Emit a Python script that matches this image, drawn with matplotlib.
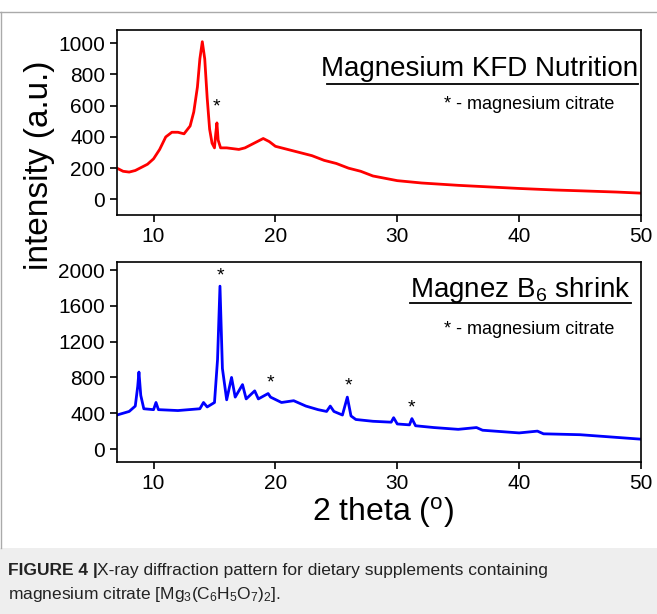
import matplotlib
matplotlib.use("Agg")
import matplotlib.pyplot as plt
from matplotlib.lines import Line2D
from matplotlib.patches import Rectangle

plt.rcParams['font.family'] = ['Liberation Sans', 'DejaVu Sans']
plt.rcParams['mathtext.fontset'] = 'custom'
plt.rcParams['mathtext.rm'] = 'Liberation Sans'
plt.rcParams['mathtext.it'] = 'Liberation Sans'

kfd_x = [7, 7.5, 8, 8.5, 9, 9.5, 10, 10.5, 11, 11.5, 12, 12.5, 13, 13.3, 13.6, 13.8, 14, 14.2, 14.4, 14.6, 14.8, 15, 15.1, 15.2, 15.3, 15.5, 16, 16.5, 17, 17.5, 18, 18.5, 19, 19.5, 20, 21, 22, 23, 24, 25, 26, 27, 28, 29, 30, 32, 35, 38, 40, 43, 45, 48, 50]
kfd_y = [200, 180, 175, 185, 205, 225, 260, 320, 400, 430, 430, 420, 470, 560, 720, 900, 1010, 900, 650, 450, 360, 330, 420, 490, 380, 330, 330, 325, 320, 330, 350, 370, 390, 370, 340, 320, 300, 280, 250, 230, 200, 180, 150, 135, 120, 105, 90, 78, 70, 60, 55, 47, 40]

b6_x = [7, 8, 8.5, 8.7, 8.8, 8.95, 9.2, 10, 10.2, 10.4, 12, 13.8, 14.1, 14.4, 15, 15.25, 15.45, 15.65, 16, 16.4, 16.7, 17.3, 17.6, 18.3, 18.6, 19.4, 19.6, 19.9, 20.5, 21.5, 22.5, 23.5, 24.2, 24.5, 24.8, 25.5, 25.9, 26.2, 26.6, 28, 29.5, 29.7, 30, 31, 31.2, 31.5, 33, 35, 36.5, 37, 40, 41.5, 42, 45, 48, 50]
b6_y = [380, 420, 480, 700, 860, 600, 450, 440, 520, 440, 430, 450, 520, 470, 520, 1000, 1820, 900, 550, 800, 580, 720, 560, 650, 560, 620, 580, 560, 520, 540, 480, 440, 420, 480, 420, 380, 580, 370, 330, 310, 300, 350, 280, 270, 340, 260, 240, 220, 240, 210, 180, 200, 170, 160, 130, 110]

fig = plt.figure(figsize=(6.57, 6.14), dpi=100)
W, H = 657, 614
def ax_rect(x0, y0, x1, y1):
    return [x0 / W, 1 - y1 / H, (x1 - x0) / W, (y1 - y0) / H]

fig.patches.append(Rectangle((0, 0), 1, 1 - 548 / H, transform=fig.transFigure, facecolor='#eeeeee', edgecolor='none', zorder=0))
fig.add_artist(Line2D([0, 1], [1 - 12 / H] * 2, transform=fig.transFigure, color='#aaaaaa', lw=1))
fig.add_artist(Line2D([0.5 / W] * 2, [1 - 548 / H, 1 - 12 / H], transform=fig.transFigure, color='#aaaaaa', lw=1))

ax1 = fig.add_axes(ax_rect(117, 30, 641, 215))
ax2 = fig.add_axes(ax_rect(117, 262, 641, 462))

ax1.plot(kfd_x, kfd_y, color='#ff0000', lw=2)
ax1.set_xlim(7, 50)
ax1.set_ylim(-100, 1085)
ax1.set_yticks([0, 200, 400, 600, 800, 1000])
ax1.set_xticks([10, 20, 30, 40, 50])

ax2.plot(b6_x, b6_y, color='#0000ff', lw=2)
ax2.set_xlim(7, 50)
ax2.set_ylim(-145, 2090)
ax2.set_yticks([0, 400, 800, 1200, 1600, 2000])
ax2.set_xticks([10, 20, 30, 40, 50])

for ax in (ax1, ax2):
    ax.tick_params(labelsize=15, direction='out', length=5, width=1.2)
    for s in ax.spines.values():
        s.set_linewidth(1.2)

ax1.text(0.995, 0.79, 'Magnesium KFD Nutrition', transform=ax1.transAxes, ha='right', va='center', fontsize=20)
ax1.add_line(Line2D([0.4, 0.995], [0.71, 0.71], transform=ax1.transAxes, color='black', lw=1.3))
ax1.text(0.95, 0.595, '* - magnesium citrate', transform=ax1.transAxes, ha='right', va='center', fontsize=13)
ax1.text(15.2, 540, '*', ha='center', va='bottom', fontsize=14)

ax2.text(0.98, 0.86, r'Magnez B$_{6}$ shrink', transform=ax2.transAxes, ha='right', va='center', fontsize=20)
ax2.add_line(Line2D([0.56, 0.98], [0.795, 0.795], transform=ax2.transAxes, color='black', lw=1.3))
ax2.text(0.95, 0.66, '* - magnesium citrate', transform=ax2.transAxes, ha='right', va='center', fontsize=13)
for sx, sy in [(15.45, 1840), (19.6, 640), (26, 610), (31.2, 360)]:
    ax2.text(sx, sy, '*', ha='center', va='bottom', fontsize=14)

fig.text(40 / W, 1 - 165 / H, 'intensity (a.u.)', rotation=90, ha='center', va='center', fontsize=24)
fig.text(383 / W, 1 - 512 / H, r'2 theta ($^{\rm o}$)', ha='center', va='center', fontsize=23)

fig.text(8 / W, 1 - 571 / H, 'FIGURE 4 |', fontsize=12.5, fontweight='bold', va='center', color='#222222')
fig.text(97 / W, 1 - 571 / H, 'X-ray diffraction pattern for dietary supplements containing', fontsize=12.5, va='center', color='#222222')
fig.text(8 / W, 1 - 594 / H, r'magnesium citrate [Mg$_3$(C$_6$H$_5$O$_7$)$_2$].', fontsize=12.5, va='center', color='#222222')

fig.savefig('out.png', dpi=100)
